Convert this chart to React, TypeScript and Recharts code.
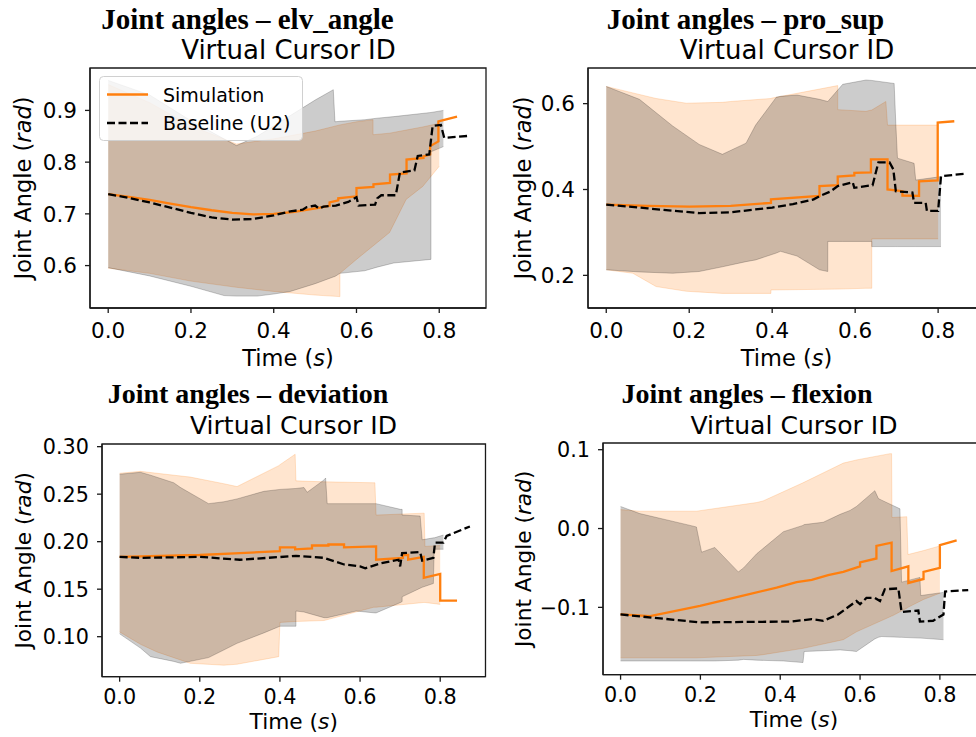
import React from 'react';
import { ComposedChart, Area, Line, XAxis, YAxis, Label, ReferenceArea } from 'recharts';

const TIME_TICKS = [0, 0.2, 0.4, 0.6, 0.8];
const X_DOMAIN: [number, number] = [-0.044, 0.913];
const ORANGE = '#ff7f0e';
const SPINE = '#1a1a1a';

// ---- elv_angle (top left) ----
const elvSimT = [0, 0.05, 0.1, 0.15, 0.2, 0.25, 0.3, 0.35, 0.4, 0.45, 0.512, 0.535, 0.535, 0.556, 0.556, 0.6, 0.6, 0.641, 0.641, 0.681, 0.681, 0.721, 0.721, 0.762, 0.762, 0.778, 0.778, 0.798, 0.798, 0.843];
const elvSimV = [0.738, 0.733, 0.727, 0.72, 0.713, 0.707, 0.702, 0.699, 0.7, 0.704, 0.712, 0.716, 0.722, 0.726, 0.73, 0.734, 0.75, 0.752, 0.757, 0.76, 0.776, 0.778, 0.805, 0.808, 0.811, 0.815, 0.831, 0.84, 0.879, 0.888];
const elvBaseT = [0, 0.05, 0.1, 0.15, 0.2, 0.25, 0.3, 0.35, 0.4, 0.44, 0.47, 0.48, 0.5, 0.51, 0.52, 0.55, 0.58, 0.6, 0.605, 0.645, 0.65, 0.66, 0.695, 0.705, 0.74, 0.748, 0.776, 0.784, 0.804, 0.812, 0.874];
const elvBaseV = [0.738, 0.731, 0.722, 0.712, 0.702, 0.693, 0.689, 0.69, 0.697, 0.705, 0.708, 0.713, 0.716, 0.71, 0.714, 0.716, 0.723, 0.732, 0.716, 0.718, 0.73, 0.736, 0.736, 0.78, 0.784, 0.812, 0.815, 0.87, 0.872, 0.847, 0.851];
const elvSimBandT = [0, 0.1, 0.2, 0.31, 0.4, 0.5, 0.56, 0.56, 0.6, 0.64, 0.64, 0.68, 0.72, 0.76, 0.8];
const elvSimBandLo = [0.595, 0.585, 0.57, 0.558, 0.55, 0.543, 0.54, 0.585, 0.612, 0.638, 0.638, 0.664, 0.728, 0.753, 0.792];
const elvSimBandHi = [0.95, 0.915, 0.87, 0.835, 0.845, 0.86, 0.872, 0.872, 0.878, 0.882, 0.853, 0.856, 0.862, 0.868, 0.875];
const elvBaseBandT = [0, 0.1, 0.2, 0.28, 0.31, 0.36, 0.4, 0.44, 0.5, 0.544, 0.548, 0.56, 0.62, 0.65, 0.69, 0.78, 0.78, 0.81];
const elvBaseBandLo = [0.596, 0.58, 0.56, 0.542, 0.541, 0.541, 0.545, 0.55, 0.565, 0.578, 0.579, 0.585, 0.59, 0.597, 0.605, 0.612, 0.82, 0.83];
const elvBaseBandHi = [0.958, 0.93, 0.88, 0.845, 0.832, 0.85, 0.87, 0.89, 0.92, 0.94, 0.878, 0.879, 0.882, 0.885, 0.888, 0.896, 0.896, 0.9];

// ---- pro_sup (top right) ----
const proSimT = [0, 0.1, 0.2, 0.3, 0.397, 0.397, 0.514, 0.514, 0.558, 0.558, 0.598, 0.598, 0.638, 0.638, 0.678, 0.678, 0.714, 0.714, 0.754, 0.754, 0.799, 0.799, 0.839];
const proSimV = [0.365, 0.362, 0.36, 0.362, 0.369, 0.377, 0.385, 0.408, 0.41, 0.43, 0.433, 0.439, 0.44, 0.47, 0.47, 0.4, 0.396, 0.386, 0.385, 0.419, 0.421, 0.556, 0.559];
const proBaseT = [0, 0.1, 0.224, 0.3, 0.4, 0.45, 0.5, 0.515, 0.54, 0.558, 0.594, 0.598, 0.642, 0.656, 0.683, 0.692, 0.698, 0.738, 0.742, 0.77, 0.773, 0.8, 0.807, 0.868];
const proBaseV = [0.365, 0.356, 0.345, 0.347, 0.358, 0.366, 0.377, 0.385, 0.395, 0.408, 0.417, 0.404, 0.41, 0.463, 0.463, 0.447, 0.396, 0.393, 0.369, 0.369, 0.35, 0.35, 0.431, 0.437];
const proSimBandT = [0, 0.064, 0.12, 0.193, 0.28, 0.3, 0.397, 0.397, 0.4, 0.558, 0.558, 0.626, 0.634, 0.64, 0.64, 0.674, 0.678, 0.8];
const proSimBandLo = [0.213, 0.205, 0.174, 0.163, 0.158, 0.158, 0.158, 0.166, 0.166, 0.168, 0.168, 0.17, 0.17, 0.17, 0.285, 0.285, 0.285, 0.285];
const proSimBandHi = [0.64, 0.625, 0.612, 0.601, 0.603, 0.605, 0.612, 0.612, 0.613, 0.642, 0.586, 0.582, 0.584, 0.585, 0.585, 0.605, 0.55, 0.55];
const proBaseBandT = [0, 0.08, 0.16, 0.224, 0.28, 0.337, 0.36, 0.41, 0.42, 0.46, 0.514, 0.534, 0.534, 0.57, 0.626, 0.64, 0.64, 0.694, 0.698, 0.702, 0.742, 0.746, 0.807];
const proBaseBandLo = [0.213, 0.208, 0.205, 0.209, 0.22, 0.232, 0.236, 0.252, 0.256, 0.245, 0.213, 0.209, 0.279, 0.279, 0.279, 0.279, 0.267, 0.267, 0.267, 0.267, 0.267, 0.267, 0.267];
const proBaseBandHi = [0.64, 0.61, 0.548, 0.505, 0.482, 0.508, 0.55, 0.615, 0.617, 0.62, 0.61, 0.605, 0.605, 0.645, 0.655, 0.654, 0.654, 0.647, 0.554, 0.473, 0.461, 0.422, 0.43];

// ---- deviation (bottom left) ----
const devSimT = [0, 0.1, 0.2, 0.3, 0.4, 0.4, 0.438, 0.438, 0.48, 0.48, 0.521, 0.521, 0.56, 0.56, 0.64, 0.64, 0.707, 0.707, 0.72, 0.72, 0.759, 0.759, 0.8, 0.8, 0.842];
const devSimV = [0.184, 0.185, 0.186, 0.188, 0.19, 0.194, 0.194, 0.192, 0.193, 0.196, 0.196, 0.197, 0.197, 0.194, 0.195, 0.181, 0.183, 0.186, 0.186, 0.181, 0.184, 0.162, 0.166, 0.138, 0.138];
const devBaseT = [0, 0.052, 0.2, 0.3, 0.44, 0.51, 0.56, 0.6, 0.613, 0.65, 0.696, 0.7, 0.705, 0.75, 0.755, 0.783, 0.787, 0.808, 0.816, 0.874];
const devBaseV = [0.184, 0.183, 0.184, 0.181, 0.185, 0.183, 0.176, 0.174, 0.172, 0.177, 0.181, 0.174, 0.188, 0.189, 0.18, 0.183, 0.199, 0.199, 0.206, 0.216];
const devSimBandT = [0, 0.052, 0.093, 0.176, 0.26, 0.293, 0.397, 0.4, 0.438, 0.44, 0.51, 0.634, 0.637, 0.64, 0.759, 0.76, 0.762, 0.8];
const devSimBandLo = [0.105, 0.092, 0.084, 0.072, 0.07, 0.071, 0.079, 0.115, 0.116, 0.116, 0.117, 0.131, 0.131, 0.131, 0.136, 0.136, 0.136, 0.134];
const devSimBandHi = [0.272, 0.274, 0.272, 0.268, 0.261, 0.258, 0.28, 0.281, 0.292, 0.264, 0.263, 0.262, 0.262, 0.228, 0.23, 0.23, 0.195, 0.196];
const devBaseBandT = [0, 0.052, 0.077, 0.135, 0.152, 0.222, 0.26, 0.293, 0.36, 0.4, 0.44, 0.44, 0.46, 0.468, 0.51, 0.514, 0.518, 0.59, 0.637, 0.64, 0.701, 0.705, 0.705, 0.75, 0.755, 0.783, 0.785, 0.808];
const devBaseBandLo = [0.103, 0.088, 0.079, 0.074, 0.072, 0.078, 0.086, 0.093, 0.104, 0.111, 0.111, 0.127, 0.126, 0.125, 0.12, 0.12, 0.12, 0.127, 0.125, 0.125, 0.136, 0.137, 0.142, 0.151, 0.152, 0.156, 0.192, 0.192];
const devBaseBandHi = [0.271, 0.273, 0.27, 0.262, 0.257, 0.24, 0.242, 0.245, 0.253, 0.255, 0.256, 0.256, 0.257, 0.252, 0.265, 0.267, 0.24, 0.24, 0.24, 0.24, 0.234, 0.234, 0.228, 0.227, 0.202, 0.204, 0.204, 0.207];

// ---- flexion (bottom right) ----
const flxSimT = [0, 0.074, 0.199, 0.299, 0.391, 0.441, 0.479, 0.52, 0.558, 0.6, 0.6, 0.641, 0.641, 0.679, 0.679, 0.721, 0.721, 0.759, 0.759, 0.8, 0.8, 0.842];
const flxSimV = [-0.109, -0.111, -0.098, -0.086, -0.075, -0.068, -0.065, -0.059, -0.055, -0.048, -0.043, -0.038, -0.022, -0.018, -0.054, -0.048, -0.069, -0.064, -0.055, -0.05, -0.021, -0.015];
const flxBaseT = [0, 0.199, 0.425, 0.479, 0.508, 0.545, 0.591, 0.6, 0.616, 0.637, 0.65, 0.662, 0.696, 0.704, 0.746, 0.75, 0.783, 0.809, 0.813, 0.871];
const flxBaseV = [-0.109, -0.119, -0.118, -0.115, -0.117, -0.109, -0.092, -0.096, -0.088, -0.088, -0.092, -0.077, -0.076, -0.106, -0.104, -0.118, -0.117, -0.109, -0.08, -0.078];
const flxSimBandT = [0, 0.048, 0.174, 0.19, 0.341, 0.357, 0.457, 0.558, 0.591, 0.675, 0.679, 0.68, 0.717, 0.72, 0.759, 0.8];
const flxSimBandLo = [-0.164, -0.164, -0.164, -0.164, -0.161, -0.16, -0.152, -0.141, -0.131, -0.112, -0.111, -0.111, -0.101, -0.1, -0.09, -0.082];
const flxSimBandHi = [0.024, 0.022, 0.022, 0.022, 0.033, 0.035, 0.058, 0.083, 0.087, 0.095, 0.095, 0.014, 0.015, -0.033, -0.028, -0.022];
const flxBaseBandT = [0, 0.048, 0.174, 0.19, 0.203, 0.236, 0.295, 0.308, 0.341, 0.408, 0.457, 0.46, 0.508, 0.55, 0.575, 0.591, 0.637, 0.646, 0.654, 0.7, 0.704, 0.75, 0.752, 0.809];
const flxBaseBandLo = [-0.168, -0.168, -0.168, -0.168, -0.168, -0.168, -0.167, -0.166, -0.167, -0.168, -0.17, -0.156, -0.155, -0.154, -0.155, -0.156, -0.14, -0.138, -0.137, -0.138, -0.138, -0.139, -0.139, -0.141];
const flxBaseBandHi = [0.028, 0.019, 0.004, 0.002, -0.03, -0.024, -0.055, -0.05, -0.032, -0.004, 0.004, 0.005, 0.008, 0.018, 0.023, 0.028, 0.048, 0.038, 0.036, 0.025, -0.068, -0.062, -0.085, -0.081];

const curve = (t: number[], v: number[]) => t.map((x, i) => ({ t: x, v: v[i] }));
const band = (t: number[], lo: number[], hi: number[]) => t.map((x, i) => ({ t: x, r: [lo[i], hi[i]] }));
const fmt = (v: number, d: number) => v.toFixed(d).replace('-', '\u2212');

const YW = 100;
const MT = 14;
const MR = 4;
const XH = 75;

interface PanelProps {
  x: number;
  y: number;
  w: number;
  h: number;
  s: number;
  tickGap: number;
  xLabelGap: number;
  yDomain: [number, number];
  yTicks: number[];
  yDigits: number;
  yLabelGap: number;
  simBand: any[];
  baseBand: any[];
  sim: any[];
  base: any[];
}

const Panel: React.FC<PanelProps> = ({ x, y, w, h, s, tickGap, xLabelGap, yDomain, yTicks, yDigits, yLabelGap, simBand, baseBand, sim, base }) => {
  const tickSize = 21.5 * s;
  const labelSize = 22.5 * s;
  return (
    <div style={{ position: 'absolute', left: x - YW, top: y - MT }}>
      <ComposedChart width={YW + w + MR} height={MT + h + XH} margin={{ top: MT, right: MR, bottom: 0, left: 0 }}>
        <XAxis
          xAxisId="b"
          type="number"
          dataKey="t"
          domain={X_DOMAIN}
          ticks={TIME_TICKS}
          allowDataOverflow
          height={XH}
          tickSize={5}
          tickMargin={tickGap}
          tick={(p: any) => (
            <text x={p.x} y={p.y} dy="0.72em" textAnchor="middle" fontSize={tickSize} fontFamily="DejaVu Sans" fill="#000">
              {fmt(p.payload.value, 1)}
            </text>
          )}
          axisLine={{ stroke: SPINE, strokeWidth: 1.3 }}
          tickLine={{ stroke: SPINE, strokeWidth: 1.3 }}
        >
          <Label
            content={() => (
              <text x={YW + w / 2} y={MT + h + xLabelGap} textAnchor="middle" fontSize={labelSize} fontFamily="DejaVu Sans" fill="#000">
                Time (<tspan fontStyle="italic">s</tspan>)
              </text>
            )}
          />
        </XAxis>
        <YAxis
          yAxisId="l"
          type="number"
          domain={yDomain}
          ticks={yTicks}
          allowDataOverflow
          width={YW}
          tickSize={5}
          tickMargin={8}
          tick={(p: any) => (
            <text x={p.x} y={p.y} dy="0.36em" textAnchor="end" fontSize={tickSize} fontFamily="DejaVu Sans" fill="#000">
              {fmt(p.payload.value, yDigits)}
            </text>
          )}
          axisLine={{ stroke: SPINE, strokeWidth: 1.3 }}
          tickLine={{ stroke: SPINE, strokeWidth: 1.3 }}
        >
          <Label
            content={() => {
              const cx = YW - yLabelGap;
              const cy = MT + h / 2;
              return (
                <text x={cx} y={cy} dy="0.35em" transform={`rotate(-90, ${cx}, ${cy})`} textAnchor="middle" fontSize={labelSize} fontFamily="DejaVu Sans" fill="#000">
                  Joint Angle (<tspan fontStyle="italic">rad</tspan>)
                </text>
              );
            }}
          />
        </YAxis>
        <Area xAxisId="b" yAxisId="l" data={simBand} dataKey="r" type="linear" fill={ORANGE} fillOpacity={0.2} stroke={ORANGE} strokeOpacity={0.2} strokeWidth={1} dot={false} activeDot={false} isAnimationActive={false} />
        <Area xAxisId="b" yAxisId="l" data={baseBand} dataKey="r" type="linear" fill="#000" fillOpacity={0.2} stroke="#000" strokeOpacity={0.2} strokeWidth={1} dot={false} activeDot={false} isAnimationActive={false} />
        <Line xAxisId="b" yAxisId="l" data={sim} dataKey="v" type="linear" stroke={ORANGE} strokeWidth={2.3} dot={false} activeDot={false} isAnimationActive={false} />
        <Line xAxisId="b" yAxisId="l" data={base} dataKey="v" type="linear" stroke="#000" strokeWidth={2.3} strokeDasharray="8 3.5" dot={false} activeDot={false} isAnimationActive={false} />
        <ReferenceArea xAxisId="b" yAxisId="l" x1={X_DOMAIN[0]} x2={X_DOMAIN[1]} y1={yDomain[0]} y2={yDomain[1]} fill="none" fillOpacity={0} stroke={SPINE} strokeWidth={1.3} />
      </ComposedChart>
    </div>
  );
};

const Titles: React.FC = () => {
  const heads = [
    { name: 'elv_angle', tx: 247.5, sx: 288.5, ty: 29, sy: 59, s: 1 },
    { name: 'pro_sup', tx: 745.5, sx: 787, ty: 29, sy: 59, s: 1 },
    { name: 'deviation', tx: 248, sx: 293.5, ty: 403, sy: 434, s: 0.965 },
    { name: 'flexion', tx: 747, sx: 794, ty: 403, sy: 434, s: 0.965 },
  ];
  return (
    <svg width={976} height={737} style={{ position: 'absolute', left: 0, top: 0, pointerEvents: 'none' }}>
      {heads.map((d) => (
        <g key={d.name}>
          <text x={d.tx} y={d.ty} textAnchor="middle" fontFamily="Liberation Serif" fontWeight="bold" fontSize={29 * d.s} fill="#000">
            {`Joint angles \u2013 ${d.name}`}
          </text>
          <text x={d.sx} y={d.sy} textAnchor="middle" fontFamily="DejaVu Sans" fontSize={26 * d.s} fill="#000">
            Virtual Cursor ID
          </text>
        </g>
      ))}
      <rect x={99.5} y={76.5} width={203} height={64} rx={4} fill="#fff" fillOpacity={0.8} stroke="#d0d0d0" strokeWidth={1} />
      <line x1={107} x2={148} y1={94.5} y2={94.5} stroke={ORANGE} strokeWidth={2.3} />
      <text x={163} y={102} fontFamily="DejaVu Sans" fontSize={19} fill="#000">Simulation</text>
      <line x1={107} x2={148} y1={123} y2={123} stroke="#000" strokeWidth={2.3} strokeDasharray="8 3.5" />
      <text x={163} y={130} fontFamily="DejaVu Sans" fontSize={19} fill="#000">Baseline (U2)</text>
    </svg>
  );
};

export default function App() {
  return (
    <div style={{ position: 'absolute', left: 0, top: 0, width: 976, height: 737, overflow: 'hidden', background: '#fff' }}>
      <Panel
        x={90} y={68.3} w={396} h={240} s={1} tickGap={10} xLabelGap={58}
        yDomain={[0.518, 0.982]} yTicks={[0.6, 0.7, 0.8, 0.9]} yDigits={1} yLabelGap={67}
        simBand={band(elvSimBandT, elvSimBandLo, elvSimBandHi)}
        baseBand={band(elvBaseBandT, elvBaseBandLo, elvBaseBandHi)}
        sim={curve(elvSimT, elvSimV)} base={curve(elvBaseT, elvBaseV)}
      />
      <Panel
        x={588.3} y={68.3} w={397} h={240} s={1} tickGap={10} xLabelGap={58}
        yDomain={[0.124, 0.683]} yTicks={[0.2, 0.4, 0.6]} yDigits={1} yLabelGap={65}
        simBand={band(proSimBandT, proSimBandLo, proSimBandHi)}
        baseBand={band(proBaseBandT, proBaseBandLo, proBaseBandHi)}
        sim={curve(proSimT, proSimV)} base={curve(proBaseT, proBaseV)}
      />
      <Panel
        x={101.7} y={444} w={383.5} h={232.7} s={0.965} tickGap={7} xLabelGap={52}
        yDomain={[0.0579, 0.3028]} yTicks={[0.1, 0.15, 0.2, 0.25, 0.3]} yDigits={2} yLabelGap={79}
        simBand={band(devSimBandT, devSimBandLo, devSimBandHi)}
        baseBand={band(devBaseBandT, devBaseBandLo, devBaseBandHi)}
        sim={curve(devSimT, devSimV)} base={curve(devBaseT, devBaseV)}
      />
      <Panel
        x={603.3} y={443.3} w={382} h={231.7} s={0.965} tickGap={7} xLabelGap={52}
        yDomain={[-0.1854, 0.1085]} yTicks={[-0.1, 0, 0.1]} yDigits={1} yLabelGap={80}
        simBand={band(flxSimBandT, flxSimBandLo, flxSimBandHi)}
        baseBand={band(flxBaseBandT, flxBaseBandLo, flxBaseBandHi)}
        sim={curve(flxSimT, flxSimV)} base={curve(flxBaseT, flxBaseV)}
      />
      <Titles />
    </div>
  );
}
